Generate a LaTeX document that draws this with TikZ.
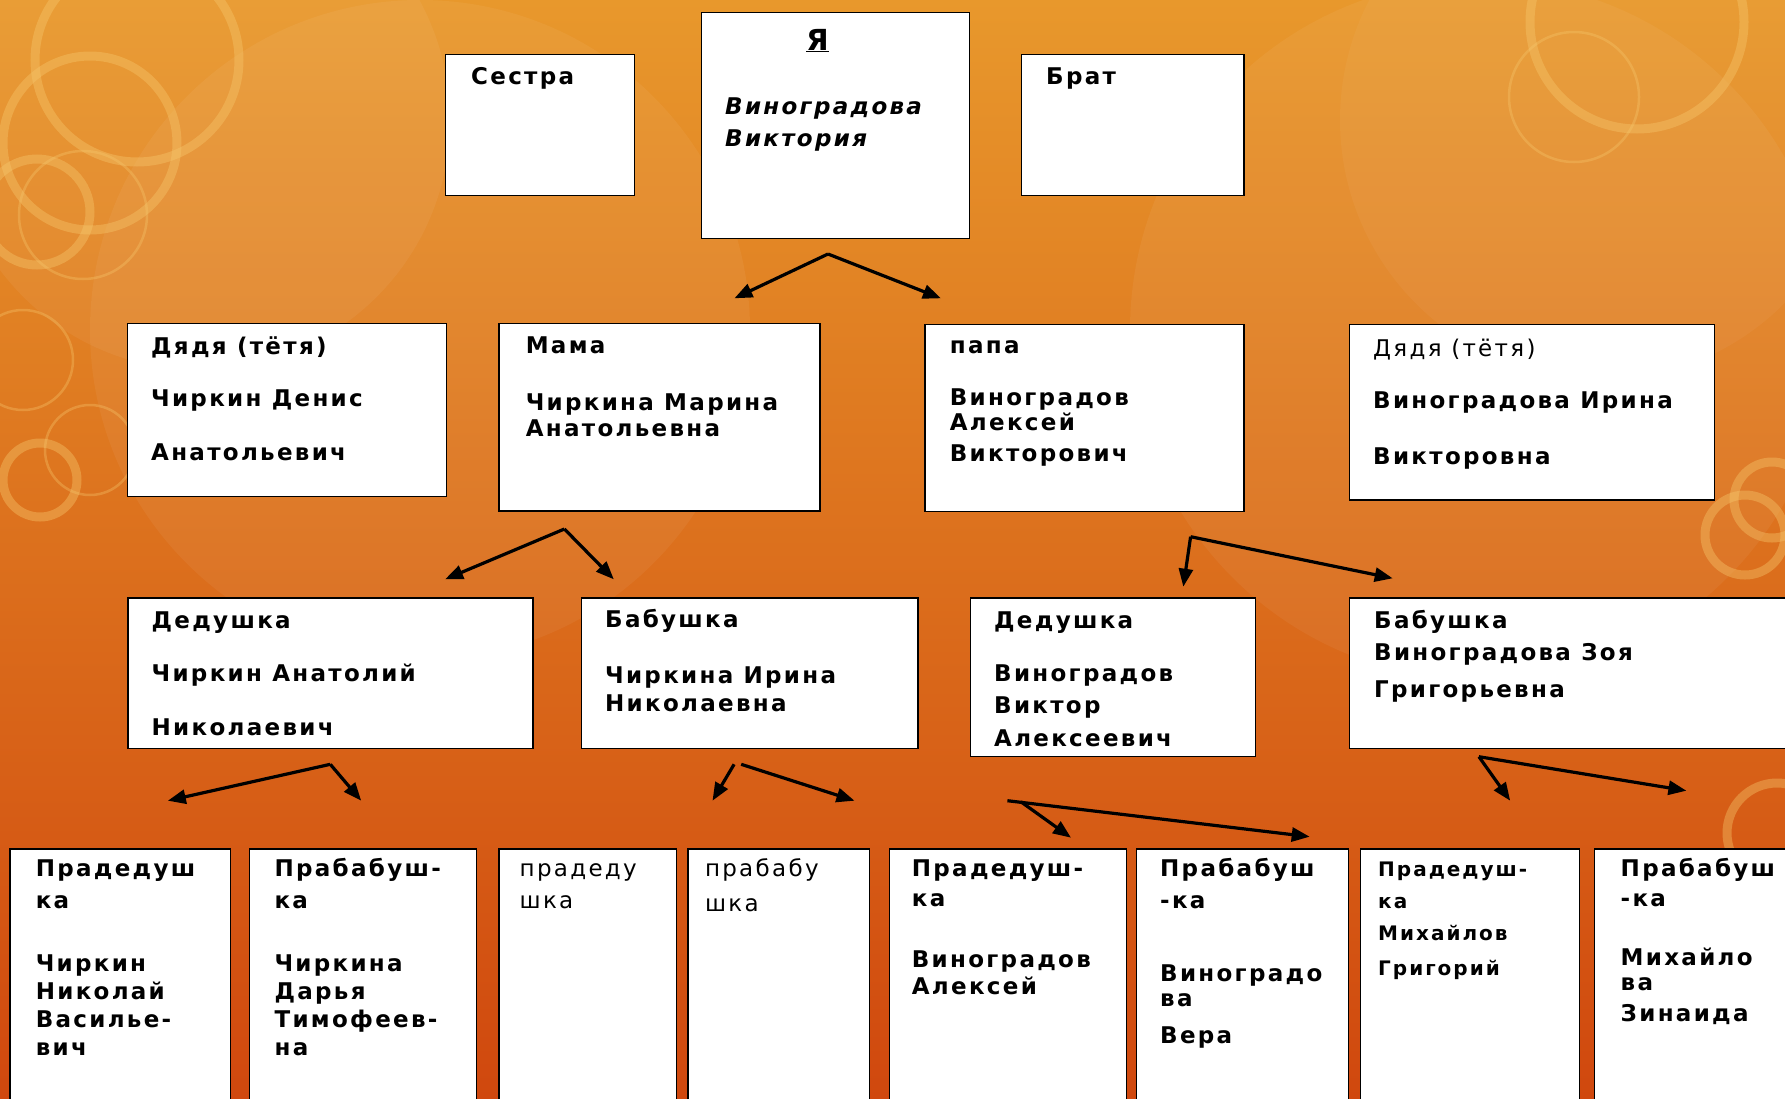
\documentclass[tikz,border=0pt]{standalone}
\usepackage{fontspec}
\setmainfont{DejaVu Sans}[LetterSpace=10]
\usetikzlibrary{arrows.meta}
\definecolor{bgtop}{HTML}{E8982C}
\definecolor{bgbot}{HTML}{D0480E}
\definecolor{ring}{HTML}{F6C76C}

\begin{document}
\begin{tikzpicture}[x=1pt,y=-1pt,
        card/.style={draw=black,line width=1.4pt,fill=white,anchor=north west,
            inner sep=0pt},
        txt/.style={anchor=north west,inner sep=0pt,align=left,yshift=19.6pt,
            font=\fontsize{23}{28}\selectfont\bfseries},
        thin/.style={font=\fontsize{23}{28}\selectfont},
        arr/.style={line width=3.2pt,-{Triangle[length=18pt,width=14pt]}},
        bigring/.style={draw=ring,opacity=0.4,line width=9pt},
        smallring/.style={draw=ring,opacity=0.35,line width=2.5pt}]
\useasboundingbox (0,0) rectangle (1785,1098);
\shade[top color=bgtop,bottom color=bgbot] (0,0) rectangle (1785,1098);

\fill[white,opacity=0.05] (420,330) circle (330);
\fill[white,opacity=0.05] (1480,330) circle (350);
\fill[white,opacity=0.05] (200,120) circle (250);
\fill[white,opacity=0.04] (1600,120) circle (260);

\draw[bigring] (137,60) circle (102);
\draw[bigring] (90,143) circle (87);
\draw[bigring] (37,212) circle (53);
\draw[smallring] (83,215) circle (64);
\draw[smallring] (23,360) circle (50);
\draw[smallring] (90,450) circle (45);
\draw[bigring] (40,480) circle (37);
\draw[bigring] (1637,22) circle (107);
\draw[smallring] (1574,97) circle (65);
\draw[bigring] (1745,535) circle (40);
\draw[bigring] (1772,500) circle (38);
\draw[bigring] (1777,833) circle (50);

\node[card,minimum width=189pt,minimum height=141.5pt] (sister) at (445,53.5) {};
\node[card,minimum width=268.5pt,minimum height=226.5pt] (me) at (700.5,11.5) {};
\node[card,minimum width=222.3pt,minimum height=141.5pt] (brother) at (1021,53.5) {};

\node[card,minimum width=319pt,minimum height=173pt] (uncleL) at (126.7,322.7) {};
\node[card,minimum width=321pt,minimum height=187.6pt] (mama) at (498.4,322.7) {};
\node[card,minimum width=318.8pt,minimum height=187pt] (papa) at (924.3,323.7) {};
\node[card,minimum width=365.2pt,minimum height=175.6pt] (uncleR) at (1348.6,323.7) {};

\node[card,minimum width=405pt,minimum height=150.4pt] (gpC) at (127.1,597.3) {};
\node[card,minimum width=336.5pt,minimum height=150.4pt] (gmC) at (580.8,597.3) {};
\node[card,minimum width=285pt,minimum height=158.7pt] (gpV) at (969.6,597.3) {};
\node[card,minimum width=460pt,minimum height=150.4pt] (gmV) at (1348.5,597.3) {};

\node[card,minimum width=220.4pt,minimum height=270pt] (ggp1) at (9.2,848.3) {};
\node[card,minimum width=227.3pt,minimum height=270pt] (ggm1) at (248.5,848.3) {};
\node[card,minimum width=177.6pt,minimum height=270pt] (ggp2) at (498.4,848.3) {};
\node[card,minimum width=181.7pt,minimum height=270pt] (ggm2) at (687.3,848.3) {};
\node[card,minimum width=236.6pt,minimum height=270pt] (ggp3) at (888.9,848.3) {};
\node[card,minimum width=211.6pt,minimum height=270pt] (ggm3) at (1135.9,848.3) {};
\node[card,minimum width=218.7pt,minimum height=270pt] (ggp4) at (1359.8,848.3) {};
\node[card,minimum width=220pt,minimum height=270pt] (ggm4) at (1594,848.3) {};

\node[txt] (sisterT) at (471,84) {\strut Сестра};
\node[txt] (brotherT) at (1046,84) {\strut Брат};
\node[anchor=base,inner sep=0pt,font=\fontsize{29}{32}\selectfont\bfseries] (meT) at (817.5,50) {\underline{Я}};
\node[txt,font=\fontsize{23}{28}\selectfont\bfseries\itshape] (meName) at (725,114) {\strut Виноградова\\[4.7pt]Виктория};

\node[txt] (uncleLT) at (151,354) {\strut Дядя (тётя)\\[24pt]Чиркин Денис\\[26pt]Анатольевич};
\node[txt] (mamaT) at (525.6,353) {\strut Мама\\[29pt]Чиркина Марина\\[-2pt]Анатольевна};
\node[txt] (papaT) at (949.7,353) {\strut папа\\[24pt]Виноградов\\[-2.4pt]Алексей\\[3pt]Викторович};
\node[txt] (uncleRT) at (1373,356) {\strut{\mdseries Дядя (тётя)}\\[24.3pt]Виноградова Ирина\\[27.7pt]Викторовна};

\node[txt] (gpCT) at (151.5,628.3) {\strut Дедушка\\[24.7pt]Чиркин Анатолий\\[26pt]Николаевич};
\node[txt] (gmCT) at (605,627.3) {\strut Бабушка\\[28pt]Чиркина Ирина\\[0.4pt]Николаевна};
\node[txt] (gpVT) at (994,628.3) {\strut Дедушка\\[25.4pt]Виноградов\\[3.6pt]Виктор\\[5.4pt]Алексеевич};
\node[txt] (gmVT) at (1374,628.7) {\strut Бабушка\\[3.6pt]Виноградова Зоя\\[8.7pt]Григорьевна};

\node[txt] (ggp1T) at (35.6,876.7) {\strut Прадедуш\\[3.6pt]ка\\[35.4pt]Чиркин\\Николай\\Василье-\\вич};
\node[txt] (ggm1T) at (274.4,876.7) {\strut Прабабуш-\\[3.6pt]ка\\[35.4pt]Чиркина\\Дарья\\Тимофеев-\\на};
\node[txt,thin] (ggp2T) at (519.5,876) {\strut прадеду\\[4.3pt]шка};
\node[txt,thin] (ggm2T) at (704.8,876) {\strut прабабу\\[7.7pt]шка};
\node[txt] (ggp3T) at (911.7,876.7) {\strut Прадедуш-\\[1.3pt]ка\\[33pt]Виноградов\\[-1pt]Алексей};
\node[txt] (ggm3T) at (1160,876.7) {\strut Прабабуш\\[3.6pt]-ка\\[45.4pt]Виноградо\\[-3pt]ва\\[8.6pt]Вера};
\node[txt,font=\fontsize{20}{28}\selectfont\bfseries] (ggp4T) at (1378,876.7) {\strut Прадедуш-\\[3.6pt]ка\\[3.7pt]Михайлов\\[7pt]Григорий};
\node[txt] (ggm4T) at (1620.5,876.7) {\strut Прабабуш\\[2pt]-ка\\[30.3pt]Михайло\\[-3pt]ва\\[3.7pt]Зинаида};

\coordinate (meTop) at (828,254);
\coordinate (meLeft) at (734.4,298.3);
\coordinate (meRight) at (940.9,298.3);
\draw[arr] (meTop) -- (meLeft);
\draw[arr] (meTop) -- (meRight);

\coordinate (mamaTop) at (564.4,529);
\coordinate (mamaLeft) at (445.1,579.3);
\coordinate (mamaRight) at (613.8,579.3);
\draw[arr] (mamaTop) -- (mamaLeft);
\draw[arr] (mamaTop) -- (mamaRight);

\coordinate (papaTop) at (1190.6,536.7);
\coordinate (papaLeft) at (1183.3,586.7);
\coordinate (papaRight) at (1392.7,578.3);
\draw[arr] (papaTop) -- (papaLeft);
\draw[arr] (papaTop) -- (papaRight);

\coordinate (gpCTop) at (330.3,764.3);
\coordinate (gpCLeft) at (167.8,800.7);
\coordinate (gpCRight) at (361.2,800.7);
\draw[arr] (gpCTop) -- (gpCLeft);
\draw[arr] (gpCTop) -- (gpCRight);

\coordinate (gmCTopL) at (734.1,764.3);
\coordinate (gmCTopR) at (741.2,764.3);
\coordinate (gmCLeft) at (712.5,800.7);
\coordinate (gmCRight) at (854.5,800.7);
\draw[arr] (gmCTopL) -- (gmCLeft);
\draw[arr] (gmCTopR) -- (gmCRight);

\coordinate (gpVTopL) at (1007.4,800.7);
\coordinate (gpVTopR) at (1020.8,801.7);
\coordinate (gpVLeft) at (1071,837.7);
\coordinate (gpVRight) at (1309.7,836.7);
\draw[arr] (gpVTopL) -- (gpVRight);
\draw[arr] (gpVTopR) -- (gpVLeft);

\coordinate (gmVTop) at (1478.9,756.7);
\coordinate (gmVLeft) at (1510.2,800.7);
\coordinate (gmVRight) at (1686.4,790.7);
\draw[arr] (gmVTop) -- (gmVLeft);
\draw[arr] (gmVTop) -- (gmVRight);
\end{tikzpicture}
\end{document}
